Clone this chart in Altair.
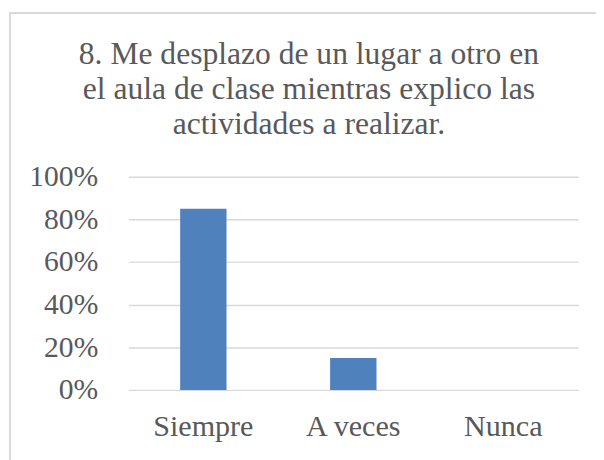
import altair as alt
import pandas as pd

categories = ["Siempre", "A veces", "Nunca"]
values = [0.85, 0.15, 0.0]
title_lines = [
    "8. Me desplazo de un lugar a otro en",
    "el aula de clase mientras explico las",
    "actividades a realizar.",
]
y_ticks = [0, 0.2, 0.4, 0.6, 0.8, 1.0]

df = pd.DataFrame({"cat": categories, "val": values})

font = "Liberation Serif"
gray = "#595959"

bars = alt.Chart(df).mark_bar(size=47, color="#4f81bd").encode(
    x=alt.X(
        "cat:N",
        sort=categories,
        scale=alt.Scale(paddingInner=0, paddingOuter=0),
        axis=alt.Axis(
            title=None, labelAngle=0, labelFont=font, labelFontSize=30.5,
            labelColor=gray, labelPadding=22, domain=False, ticks=False,
        ),
    ),
    y=alt.Y(
        "val:Q",
        scale=alt.Scale(domain=[0, 1]),
        axis=alt.Axis(
            title=None, values=y_ticks, format=".0%", labelFont=font,
            labelFontSize=30, labelColor=gray, labelPadding=31, grid=True,
            gridColor="#d9d9d9", gridWidth=1.5, domain=False, ticks=False,
        ),
    ),
)

border = alt.Chart(df).mark_rect(
    fill=None, stroke="#d9d9d9", strokeWidth=1.5, clip=False
).encode(
    x=alt.value(-120), x2=alt.value(480), y=alt.value(-166), y2=alt.value(300)
)

title = alt.Chart(df).transform_filter(
    alt.datum.cat == categories[0]
).mark_text(
    font=font, fontSize=32, color=gray, align="center",
    baseline="alphabetic", lineHeight=35.5,
).encode(
    x=alt.value(183), y=alt.value(-114), text=alt.value(title_lines)
)

chart = (
    alt.layer(border, bars, title)
    .properties(
        width=456,
        height=216,
        autosize=alt.AutoSizeParams(type="none"),
        padding={"left": 122, "top": 168, "right": 18, "bottom": 68},
    )
    .configure_view(stroke=None)
    .configure_text(font=font)
)

chart.save("out.html", embed_options={"renderer": "svg", "actions": False})
